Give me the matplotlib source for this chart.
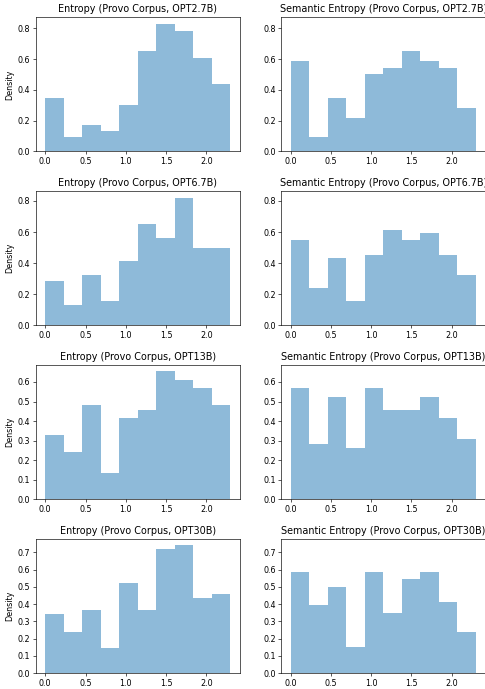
import numpy as np
import matplotlib
matplotlib.use("Agg")
from matplotlib import pyplot as plt

# density per bin, 10 equal bins from 0 to ~ln(10)
models = ["OPT2.7B", "OPT6.7B", "OPT13B", "OPT30B"]
bin_edges = np.linspace(0.0, 2.30, 11)

entropy_opt2_7b = [0.349, 0.091, 0.173, 0.134, 0.304, 0.655, 0.830, 0.785, 0.609, 0.440]
entropy_opt6_7b = [0.285, 0.129, 0.323, 0.155, 0.414, 0.653, 0.563, 0.822, 0.498, 0.498]
entropy_opt13b = [0.327, 0.240, 0.481, 0.133, 0.414, 0.455, 0.654, 0.608, 0.568, 0.481]
entropy_opt30b = [0.345, 0.237, 0.368, 0.148, 0.520, 0.368, 0.717, 0.740, 0.434, 0.457]

sem_entropy_opt2_7b = [0.590, 0.091, 0.349, 0.219, 0.505, 0.544, 0.655, 0.590, 0.544, 0.284]
sem_entropy_opt6_7b = [0.546, 0.241, 0.436, 0.156, 0.455, 0.611, 0.546, 0.592, 0.455, 0.325]
sem_entropy_opt13b = [0.568, 0.281, 0.522, 0.261, 0.568, 0.455, 0.455, 0.522, 0.414, 0.307]
sem_entropy_opt30b = [0.584, 0.393, 0.497, 0.150, 0.584, 0.347, 0.544, 0.584, 0.411, 0.237]

entropy_rows = [entropy_opt2_7b, entropy_opt6_7b, entropy_opt13b, entropy_opt30b]
sem_rows = [sem_entropy_opt2_7b, sem_entropy_opt6_7b, sem_entropy_opt13b, sem_entropy_opt30b]

# original was rendered larger and scaled down, so use a low dpi
dpi = 57.5
fig, axes = plt.subplots(4, 2, figsize=(485 / dpi, 689 / dpi), dpi=dpi)
fig.subplots_adjust(left=0.0742, right=1.0, top=0.975, bottom=0.023,
                    wspace=0.204, hspace=0.296)

centers = (bin_edges[:-1] + bin_edges[1:]) / 2
for i, model in enumerate(models):
    ax_l, ax_r = axes[i]
    ax_l.hist(centers, bins=bin_edges, weights=entropy_rows[i], alpha=0.5)
    ax_l.set_title(f"Entropy (Provo Corpus, {model})")
    ax_l.set_ylabel("Density")
    ax_r.sharey(ax_l)
    ax_r.hist(centers, bins=bin_edges, weights=sem_rows[i], alpha=0.5)
    ax_r.set_title(f"Semantic Entropy (Provo Corpus, {model})")
    ax_l.set_xticks([0.0, 0.5, 1.0, 1.5, 2.0])
    ax_r.set_xticks([0.0, 0.5, 1.0, 1.5, 2.0])

fig.savefig("out.png", dpi=dpi)
